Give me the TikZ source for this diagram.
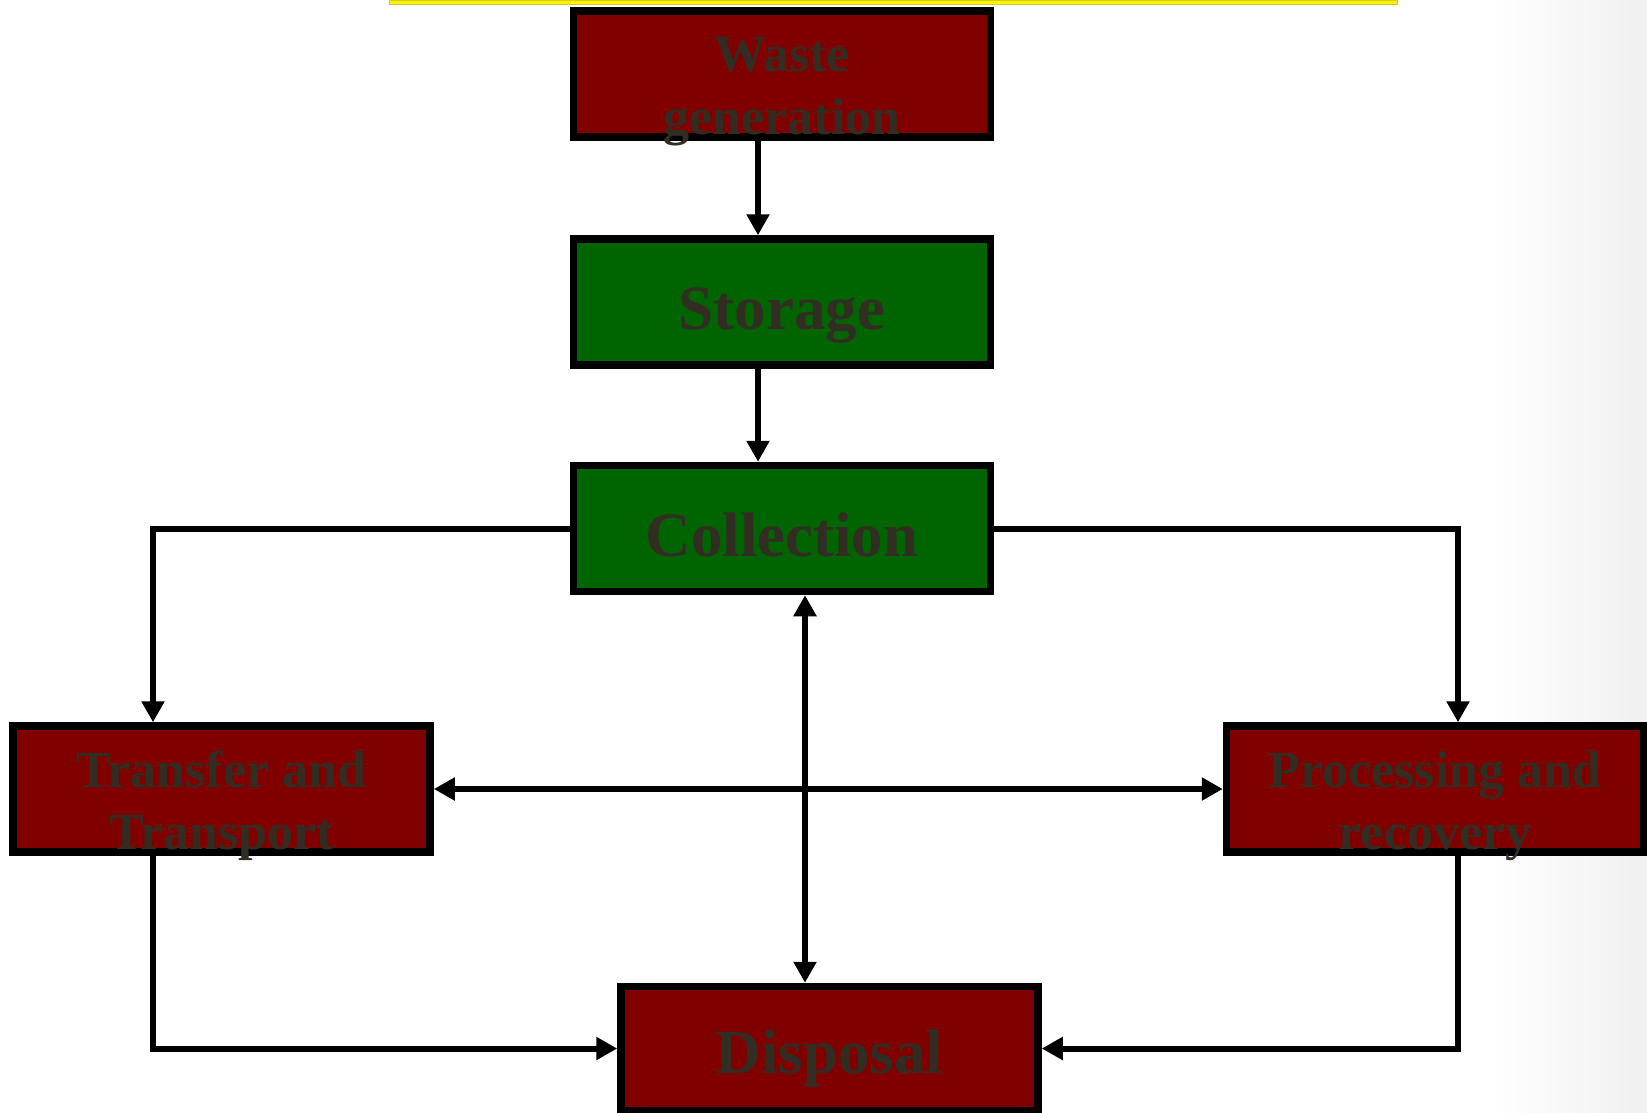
\documentclass[tikz,border=0pt]{standalone}
\usepackage{fontspec}
\setmainfont{Liberation Serif}
\usetikzlibrary{arrows.meta}
\definecolor{boxred}{RGB}{128,0,0}
\definecolor{boxgreen}{RGB}{0,100,0}
\definecolor{labelink}{RGB}{50,45,34}
\begin{document}
\begin{tikzpicture}[x=1pt,y=-1pt,
  stage/.style={draw=black, line width=7.5pt, minimum width=417pt, minimum height=126pt,
                inner sep=0pt, outer sep=3.75pt},
  redstage/.style={stage, fill=boxred},
  greenstage/.style={stage, fill=boxgreen},
  bigtext/.style={font=\fontsize{63}{63}\selectfont\bfseries, text=labelink, anchor=base, inner sep=0pt},
  smalltext/.style={font=\fontsize{52}{63}\selectfont\bfseries, text=labelink, anchor=base, inner sep=0pt},
  link/.style={line width=6pt},
  flow/.style={link, -{Triangle[length=21pt,width=22pt]}},
  flowboth/.style={link, {Triangle[length=21pt,width=22pt]}-{Triangle[length=21pt,width=22pt]}},
]
% page and background
\useasboundingbox (0,0) rectangle (1647,1113);
\fill[white] (0,0) rectangle (1647,1113);
\shade[left color=white, right color=black!6] (1490,0) rectangle (1647,1113);
\fill[yellow, draw=yellow!80!black, line width=0.6pt] (389,0) rectangle (1397,4);

% stages
\node[redstage]   (waste)    at (782,74)       {};
\node[greenstage] (storage)  at (782,302)      {};
\node[greenstage] (collect)  at (782,528.5)    {};
\node[redstage]   (transfer) at (221.6,789)    {};
\node[redstage]   (process)  at (1435,789)     {};
\node[redstage, minimum height=124pt] (disposal) at (829.5,1048.5) {};

% connectors
\draw[flow] ([xshift=-24pt]waste.south) -- ([xshift=-24pt]storage.north);
\draw[flow] ([xshift=-24pt]storage.south) -- ([xshift=-24pt]collect.north);
\draw[flow] (collect.west) -| ([xshift=-68.6pt]transfer.north);
\draw[flow] (collect.east) -| ([xshift=23pt]process.north);
\draw[flowboth] ([xshift=23pt]collect.south) -- ([xshift=-24.5pt]disposal.north);
\draw[flowboth] (transfer.east) -- (process.west);
\draw[flow] ([xshift=-68.6pt]transfer.south) |- (disposal.west);
\draw[flow] ([xshift=23pt]process.south) |- (disposal.east);

% labels
\node[smalltext] (wasteA)    at (782,71.5)   {Waste};
\node[smalltext] (wasteB)    at (782,134.5)  {generation};
\node[bigtext]   (storageT)  at (782,329)    {Storage};
\node[bigtext]   (collectT)  at (782,556)    {Collection};
\node[smalltext] (transferA) at (221.6,787)  {Transfer and};
\node[smalltext] (transferB) at (221.6,849)  {Transport};
\node[smalltext] (processA)  at (1435,787)   {Processing and};
\node[smalltext] (processB)  at (1435,849)   {recovery};
\node[bigtext]   (disposalT) at (829.5,1073) {Disposal};
\end{tikzpicture}
\end{document}
